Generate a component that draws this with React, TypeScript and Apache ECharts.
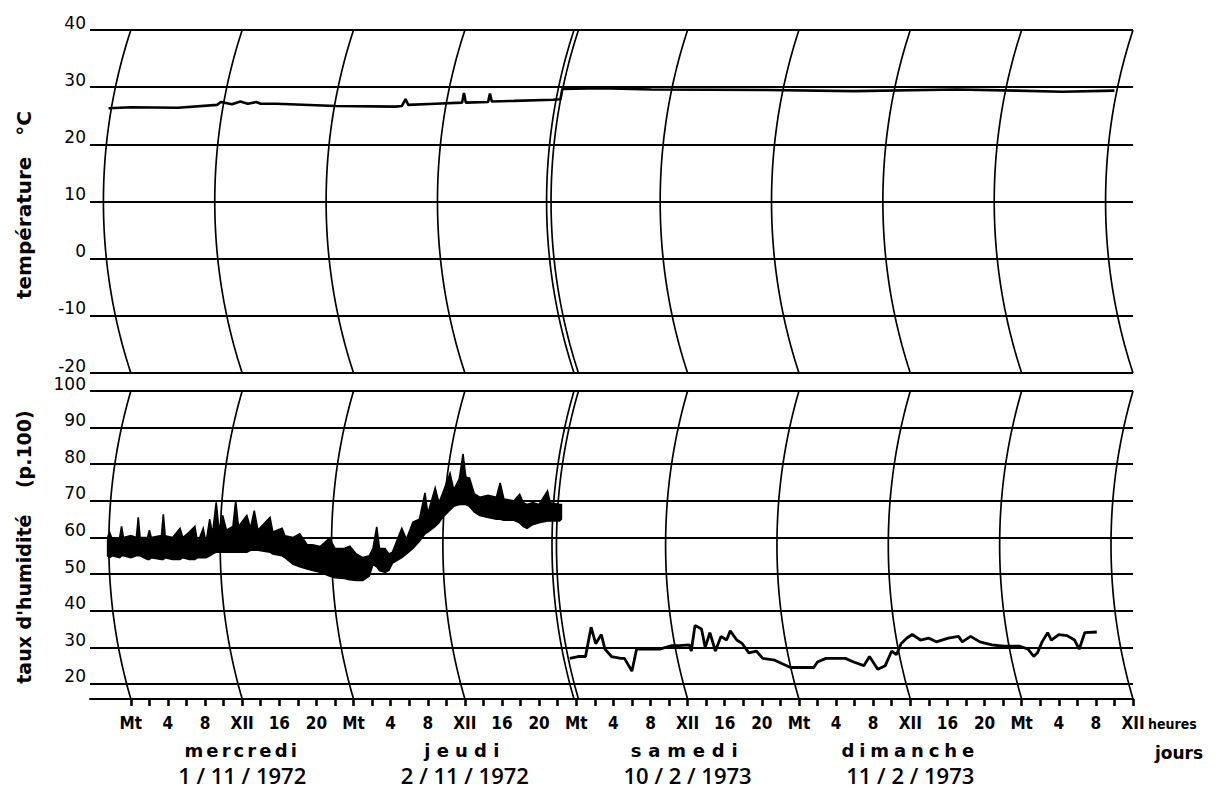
import React, { useEffect, useRef } from 'react';
import * as echarts from 'echarts';

const W = 1220;
const H = 791;

// ---------- axes / tick labels ----------
const HOUR_MIN = -4.4;
const HOUR_MAX = 108;
const TEMP_MIN = -20;
const TEMP_MAX = 40;
const HUM_MIN = 15.9;
const HUM_MAX = 100;

const tickHours = [0, 2, 4, 6, 8, 10, 12, 14, 16, 18, 20, 22, 24, 26, 28, 30, 32, 34, 36, 38, 40, 42, 44, 46, 48, 50, 52, 54, 56, 58, 60, 62, 64, 66, 68, 70, 72, 74, 76, 78, 80, 82, 84, 86, 88, 90, 92, 94, 96, 98, 100, 102, 104, 106, 108];
const labelHours = [0, 4, 8, 12, 16, 20, 24, 28, 32, 36, 40, 44, 48, 52, 56, 60, 64, 68, 72, 76, 80, 84, 88, 92, 96, 100, 104, 108];
const arcHours = [0, 12, 24, 36, 60, 72, 84, 96, 108];
const breakHour = 48;
const dayLabelHours = [12, 36, 60, 84];
const dayNames = ['mercredi', 'jeudi', 'samedi', 'dimanche'];
const dayDates = ['1 / 11 / 1972', '2 / 11 / 1972', '10 / 2 / 1973', '11 / 2 / 1973'];

// ---------- temperature (°C) ----------
const tempHours = [-2.4, 0, 5.1, 9.3, 9.7, 10.9, 11.8, 12.6, 13.5, 14.0, 15.7, 22.1, 28.5, 29.2, 29.6, 29.9, 32.8, 35.7, 35.9, 36.1, 38.5, 38.7, 38.9, 41.3, 45.5, 46.3, 46.5, 50.6, 56.1, 68.5, 77.9, 89.0, 95.4, 100.4, 106.0];
const tempValues = [26.3, 26.5, 26.4, 26.9, 27.4, 27.0, 27.5, 27.1, 27.4, 27.1, 27.1, 26.7, 26.6, 26.7, 27.9, 26.9, 27.1, 27.3, 29.0, 27.3, 27.4, 28.9, 27.5, 27.6, 27.8, 27.9, 29.7, 29.8, 29.6, 29.5, 29.3, 29.6, 29.4, 29.2, 29.4];

// ---------- humidity, 1-2 Nov 1972 (noisy trace: low / high envelope) ----------
const bandHours = [-2.5, -2.3, -2.0, -1.2, -1.0, -0.8, 0.0, 0.6, 0.8, 1.0, 1.8, 2.0, 2.2, 3.3, 3.5, 3.7, 4.5, 5.3, 5.6, 6.3, 6.9, 7.2, 7.8, 8.1, 8.5, 8.8, 9.2, 9.5, 9.9, 10.3, 11.0, 11.3, 11.6, 12.5, 12.9, 13.3, 13.7, 15.0, 15.3, 16.3, 16.6, 17.5, 18.2, 19.0, 19.6, 20.4, 21.4, 22.0, 23.0, 23.6, 24.3, 25.0, 25.7, 26.1, 26.5, 26.8, 27.4, 27.8, 28.2, 29.2, 29.7, 30.4, 31.1, 31.7, 32.0, 32.8, 33.2, 33.6, 34.4, 34.8, 35.4, 35.8, 36.1, 36.5, 37.0, 37.6, 38.5, 39.4, 39.8, 40.2, 41.3, 41.9, 42.3, 42.7, 43.3, 44.0, 44.9, 45.2, 46.2, 46.4];
const bandLow = [55, 54.5, 55, 54.5, 55, 55, 54.5, 55, 55, 55, 54, 54, 54.5, 54, 54, 54.5, 54, 54, 54.5, 54, 54, 54.5, 54.5, 54.5, 55, 55.5, 56, 56, 56, 56, 56, 56, 56, 56, 56.5, 56.5, 56.5, 56, 55.5, 55, 54.5, 52.7, 52, 51.4, 51, 50.5, 49.5, 49, 48.8, 48.5, 48.3, 48.3, 49.5, 52.7, 52, 51, 50.5, 51, 53, 54.5, 55.5, 57, 59, 61, 61.5, 63, 64, 65.5, 67.5, 68.5, 69, 69, 69, 68.5, 67, 66, 65.5, 65, 65, 64.7, 64.7, 64, 63, 62.5, 63.5, 64, 64.5, 64.5, 64.5, 65];
const bandHigh = [60, 61.5, 59.5, 60, 63, 60, 60.5, 60, 65.5, 60, 60, 62, 60, 60.5, 66.3, 60.5, 60, 62.5, 60, 61.5, 63, 58.5, 62.5, 58.5, 65, 61, 69.6, 62, 66, 62, 63, 70, 63, 66, 62.5, 67.3, 62, 65.5, 61.5, 62.5, 60.5, 60, 61, 58, 58, 57.5, 59.8, 57, 57, 57.6, 55.5, 54.5, 55, 57, 62.9, 57, 57, 55.5, 56, 62.5, 59.5, 64.2, 65, 72.2, 66.5, 73.5, 69.5, 72, 77.5, 73, 76, 82.8, 76.5, 76.2, 72, 71, 71.5, 71, 74.9, 70.5, 70, 71.8, 69.5, 69, 69.5, 69, 72.7, 69.5, 69, 69];

// ---------- humidity, 10-11 Feb 1973 ----------
const humHours = [47.3, 48.2, 49.0, 49.6, 50.1, 50.7, 51.1, 51.8, 52.8, 53.2, 54.0, 54.5, 54.9, 57.0, 58.3, 59.1, 60.2, 60.4, 60.8, 61.5, 61.9, 62.4, 63.0, 63.6, 64.2, 64.6, 65.3, 65.9, 66.6, 67.4, 68.1, 69.4, 70.2, 71.1, 73.6, 74.0, 74.9, 77.0, 77.9, 79.0, 79.6, 80.5, 81.3, 82.0, 82.5, 83.0, 83.6, 84.2, 85.1, 86.0, 86.8, 88.1, 89.2, 89.6, 90.5, 91.5, 92.8, 94.1, 95.8, 96.7, 97.3, 97.7, 98.2, 98.8, 99.2, 100.0, 100.9, 101.7, 102.2, 102.8, 104.1];
const humValues = [27, 27.5, 27.5, 35.5, 31, 33.5, 29.5, 27.5, 27, 27, 23.5, 29.5, 29.5, 29.5, 30.5, 30.5, 30.7, 29, 36, 35, 30, 34, 29, 33, 32, 34.5, 32, 31, 28.5, 29, 27, 26.5, 25.5, 24.5, 24.5, 26, 27, 27, 26, 25, 27.5, 24, 25, 29, 28, 31, 32.5, 33.5, 32, 32.5, 31.5, 32.5, 33, 31.5, 33, 31.5, 30.7, 30.3, 30.3, 29.5, 27.5, 28.5, 31.5, 34, 32, 33.5, 33.2, 32, 29.5, 34, 34.2];

// ---------- layout ----------
const GRID_LEFT = 90;
const GRID_RIGHT_X = 1133;
const TOP1 = 30;
const BOT1 = 373;
const TOP2 = 391;
const BOT2 = 699;
const PX_PER_HOUR = (GRID_RIGHT_X - GRID_LEFT) / (HOUR_MAX - HOUR_MIN);
const ARC_R = 550;

const FONT = "'DejaVu Sans', sans-serif";
const COND = "'DejaVu Sans Condensed', 'DejaVu Sans', sans-serif";
const OPEN = "'Open Sans', 'DejaVu Sans', sans-serif";

const SPACING: Record<string, number> = {
  mercredi: 3.1,
  jeudi: 6.2,
  samedi: 6.8,
  dimanche: 4.9,
};

function arcPoints(hour: number, vmin: number, vmax: number, panelPx: number) {
  const half = panelPx / 2;
  const base = Math.sqrt(ARC_R * ARC_R - half * half);
  const pts: number[][] = [];
  const n = 48;
  for (let k = 0; k <= n; k++) {
    const f = k / n;
    const dy = f * panelPx - half;
    const off = Math.sqrt(ARC_R * ARC_R - dy * dy) - base;
    pts.push([hour - off / PX_PER_HOUR, vmax - f * (vmax - vmin)]);
  }
  return pts;
}

function arcSeries(hour: number, panel: number) {
  const pts = panel === 0
    ? arcPoints(hour, TEMP_MIN, TEMP_MAX, BOT1 - TOP1)
    : arcPoints(hour, HUM_MIN, HUM_MAX, BOT2 - TOP2);
  return {
    type: 'line',
    xAxisIndex: panel,
    yAxisIndex: panel,
    data: pts,
    symbol: 'none',
    showSymbol: false,
    silent: true,
    lineStyle: { color: '#000', width: 1.7 },
    z: 1,
  };
}

function hourLabel(v: number) {
  const m = ((Math.round(v) % 24) + 24) % 24;
  if (m === 0) return 'Mt';
  if (m === 12) return 'XII';
  return String(m);
}

function dayLabel(v: number) {
  const i = dayLabelHours.indexOf(Math.round(v));
  if (i < 0) return '';
  return `{n|${dayNames[i]}}\n{d|${dayDates[i]}}`;
}

function buildOption(): any {
  const series: any[] = [];
  arcHours.forEach((h) => {
    series.push(arcSeries(h, 0));
    series.push(arcSeries(h, 1));
  });
  [breakHour - 0.24, breakHour + 0.24].forEach((h) => {
    series.push(arcSeries(h, 0));
    series.push(arcSeries(h, 1));
  });

  series.push({
    type: 'line',
    xAxisIndex: 0,
    yAxisIndex: 0,
    data: tempHours.map((h, i) => [h, tempValues[i]]),
    symbol: 'none',
    showSymbol: false,
    silent: true,
    lineStyle: { color: '#000', width: 2.6 },
    z: 3,
  });

  series.push({
    type: 'custom',
    xAxisIndex: 1,
    yAxisIndex: 1,
    silent: true,
    data: [[bandHours[0], bandLow[0]]],
    renderItem: (params: any, api: any) => {
      if (params.dataIndex !== 0) return null;
      const upper = bandHours.map((h, i) => api.coord([h, bandHigh[i]]));
      const lower = bandHours.map((h, i) => api.coord([h, bandLow[i]])).reverse();
      return {
        type: 'polygon',
        shape: { points: upper.concat(lower) },
        style: { fill: '#000', stroke: '#000', lineWidth: 1.6, lineJoin: 'miter' },
      };
    },
    z: 3,
  });

  series.push({
    type: 'line',
    xAxisIndex: 1,
    yAxisIndex: 1,
    data: humHours.map((h, i) => [h, humValues[i]]),
    symbol: 'none',
    showSymbol: false,
    silent: true,
    lineStyle: { color: '#000', width: 2.8 },
    z: 3,
  });

  const yLabel = {
    color: '#000',
    fontSize: 17,
    fontFamily: FONT,
    verticalAlign: 'bottom',
    lineHeight: 15,
    margin: 4,
  };

  return {
    animation: false,
    backgroundColor: '#fff',
    grid: [
      { left: GRID_LEFT, right: W - GRID_RIGHT_X, top: TOP1, height: BOT1 - TOP1 },
      { left: GRID_LEFT, right: W - GRID_RIGHT_X, top: TOP2, height: BOT2 - TOP2 },
    ],
    xAxis: [
      { gridIndex: 0, type: 'value', min: HOUR_MIN, max: HOUR_MAX, show: false },
      {
        gridIndex: 1,
        type: 'value',
        min: HOUR_MIN,
        max: HOUR_MAX,
        position: 'bottom',
        axisLine: { show: true, onZero: false, lineStyle: { color: '#000', width: 2 } },
        axisTick: { show: true, customValues: tickHours, length: 7, lineStyle: { color: '#000', width: 2.6 } },
        axisLabel: {
          customValues: labelHours,
          formatter: hourLabel,
          color: '#000',
          fontSize: 17,
          fontWeight: 'bold',
          fontFamily: COND,
          lineHeight: 17,
          margin: 15,
        },
        splitLine: { show: false },
      },
      {
        gridIndex: 1,
        type: 'value',
        min: HOUR_MIN,
        max: HOUR_MAX,
        position: 'bottom',
        axisLine: { show: false, onZero: false },
        axisTick: { show: false },
        axisLabel: {
          customValues: dayLabelHours,
          formatter: dayLabel,
          margin: 38,
          color: '#000',
          rich: {
            n: { fontSize: 18, fontWeight: 'bold', fontFamily: FONT, lineHeight: 27, color: '#000' },
            d: { fontSize: 22, fontWeight: 600, fontFamily: OPEN, lineHeight: 22, color: '#000' },
          },
        },
        splitLine: { show: false },
      },
    ],
    yAxis: [
      {
        gridIndex: 0,
        type: 'value',
        min: TEMP_MIN,
        max: TEMP_MAX,
        interval: 10,
        axisLine: { show: false },
        axisTick: { show: false },
        axisLabel: yLabel,
        splitLine: { show: true, lineStyle: { color: '#000', width: 2 } },
      },
      {
        gridIndex: 1,
        type: 'value',
        min: HUM_MIN,
        max: HUM_MAX,
        splitNumber: 8,
        minInterval: 10,
        maxInterval: 10,
        axisLine: { show: false },
        axisTick: { show: false },
        axisLabel: { ...yLabel, showMinLabel: false },
        splitLine: { show: true, lineStyle: { color: '#000', width: 2 } },
      },
    ],
    graphic: [
      {
        type: 'text',
        x: 24,
        y: 205,
        rotation: Math.PI / 2,
        style: { text: 'température   °C', fontSize: 20, fontWeight: 'bold', fontFamily: FONT, fill: '#000', align: 'center', verticalAlign: 'middle' },
      },
      {
        type: 'text',
        x: 24,
        y: 547,
        rotation: Math.PI / 2,
        style: { text: "taux d'humidité    (p.100)", fontSize: 19, fontWeight: 'bold', fontFamily: FONT, fill: '#000', align: 'center', verticalAlign: 'middle' },
      },
      {
        type: 'text',
        x: 1148,
        y: 724,
        style: { text: 'heures', fontSize: 14, fontWeight: 'bold', fontFamily: COND, fill: '#000', align: 'left', verticalAlign: 'middle' },
      },
      {
        type: 'text',
        x: 1155,
        y: 753,
        style: { text: 'jours', fontSize: 17, fontWeight: 'bold', fontFamily: FONT, fill: '#000', align: 'left', verticalAlign: 'middle' },
      },
    ],
    series,
  };
}

export default function App() {
  const ref = useRef<HTMLDivElement>(null);
  useEffect(() => {
    const el = ref.current;
    if (!el) return;
    const chart = echarts.init(el, null, { renderer: 'svg', width: W, height: H });
    chart.setOption(buildOption());
    const applySpacing = () => {
      el.querySelectorAll('text').forEach((t) => {
        const key = (t.textContent || '').trim();
        const s = SPACING[key];
        if (s !== undefined) {
          t.setAttribute('letter-spacing', String(s));
          (t as any).style.letterSpacing = s + 'px';
        }
      });
    };
    applySpacing();
    chart.on('finished', applySpacing);
    const timer = setTimeout(applySpacing, 50);
    return () => {
      clearTimeout(timer);
      chart.dispose();
    };
  }, []);
  return (
    <div
      ref={ref}
      style={{ position: 'fixed', left: 0, top: 0, width: W, height: H, background: '#fff' }}
    />
  );
}
